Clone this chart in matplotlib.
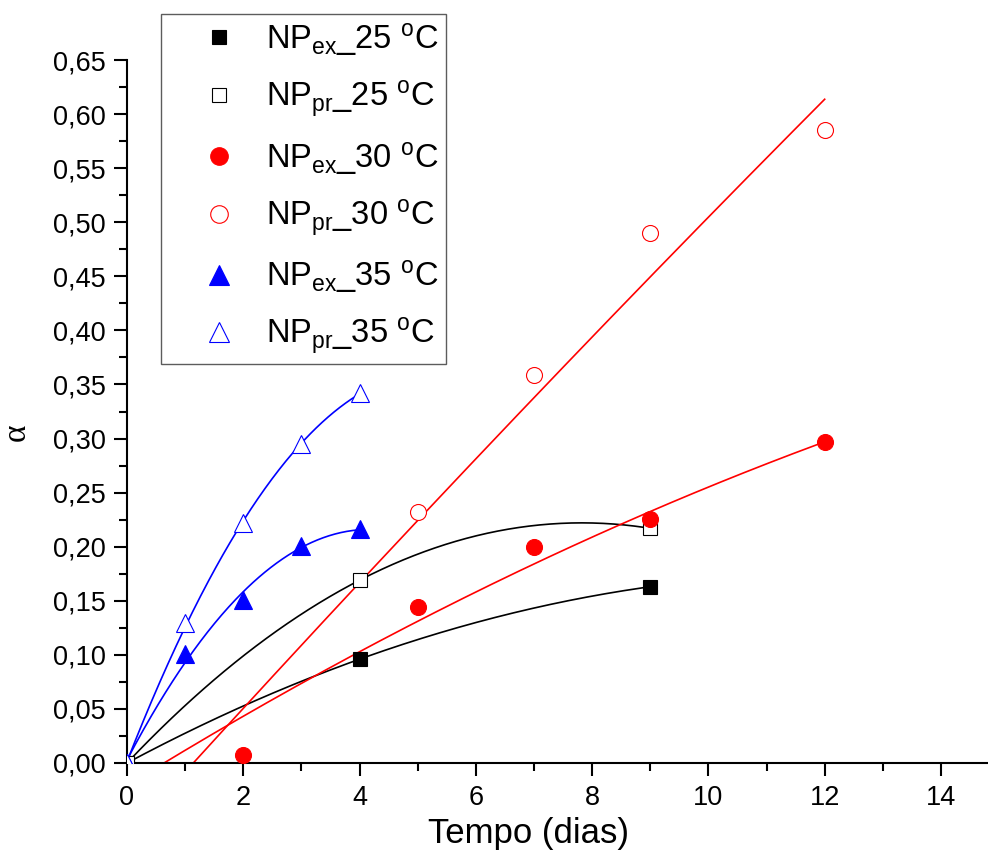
import numpy as np
import matplotlib
matplotlib.use("Agg")
import matplotlib.pyplot as plt
from matplotlib.ticker import MultipleLocator, FuncFormatter

plt.rcParams['font.family'] = ['Liberation Sans', 'DejaVu Sans']
plt.rcParams['mathtext.fontset'] = 'custom'
plt.rcParams['mathtext.rm'] = 'Liberation Sans'
plt.rcParams['mathtext.it'] = 'Liberation Sans:italic'

# ---- data ----
x_ex25 = [0, 4, 9]
y_ex25 = [0.0, 0.096, 0.163]
x_pr25 = [0, 4, 9]
y_pr25 = [0.0, 0.169, 0.217]
x_ex30 = [2, 5, 7, 9, 12]
y_ex30 = [0.007, 0.144, 0.200, 0.226, 0.297]
x_pr30 = [5, 7, 9, 12]
y_pr30 = [0.232, 0.359, 0.490, 0.585]
x_ex35 = [0, 1, 2, 3, 4]
y_ex35 = [0.0, 0.101, 0.151, 0.201, 0.216]
x_pr35 = [0, 1, 2, 3, 4]
y_pr35 = [0.0, 0.129, 0.222, 0.295, 0.342]

# fitted curves of the 30 °C series (polynomial coefficients, high->low)
fit_ex30 = [-0.000557, 0.03317, -0.02087]
fit_pr30 = [-0.0002257, 0.059476, -0.06751]

labels = [r'NP$_{\mathrm{ex}}$_25 $^{\mathrm{o}}$C',
          r'NP$_{\mathrm{pr}}$_25 $^{\mathrm{o}}$C',
          r'NP$_{\mathrm{ex}}$_30 $^{\mathrm{o}}$C',
          r'NP$_{\mathrm{pr}}$_30 $^{\mathrm{o}}$C',
          r'NP$_{\mathrm{ex}}$_35 $^{\mathrm{o}}$C',
          r'NP$_{\mathrm{pr}}$_35 $^{\mathrm{o}}$C']

W, H = 988, 851
fig = plt.figure(figsize=(W / 100, H / 100), dpi=100)
ax = fig.add_axes([127 / W, 1 - 763 / H, 1 - 127 / W, (763 - 60) / H])

lw = 1.2
# fitted curves
for xs, ys, col, deg in [(x_ex25, y_ex25, 'black', 2), (x_pr25, y_pr25, 'black', 2),
                         (x_ex35, y_ex35, 'blue', 2), (x_pr35, y_pr35, 'blue', 2)]:
    c = np.polyfit(xs, ys, deg)
    xx = np.linspace(0, max(xs), 200)
    ax.plot(xx, np.polyval(c, xx), color=col, lw=lw, zorder=2)
for coef, xs in [(fit_ex30, x_ex30), (fit_pr30, x_pr30)]:
    xx = np.linspace(0, max(xs), 200)
    ax.plot(xx, np.polyval(coef, xx), color='red', lw=lw, zorder=2)

h = []
h.append(ax.plot(x_ex25, y_ex25, 's', ms=9.5, mfc='black', mec='black', mew=0.8, ls='none', zorder=3)[0])
h.append(ax.plot(x_pr25, y_pr25, 's', ms=9.5, mfc='white', mec='black', mew=0.8, ls='none', zorder=3)[0])
h.append(ax.plot(x_ex30, y_ex30, 'o', ms=11.5, mfc='red', mec='red', mew=0.8, ls='none', zorder=3)[0])
h.append(ax.plot(x_pr30, y_pr30, 'o', ms=11.5, mfc='white', mec='red', mew=0.8, ls='none', zorder=3)[0])
h.append(ax.plot(x_ex35, y_ex35, '^', ms=12.5, mfc='blue', mec='blue', mew=0.8, ls='none', zorder=3)[0])
h.append(ax.plot(x_pr35, y_pr35, '^', ms=12.5, mfc='white', mec='blue', mew=0.8, ls='none', zorder=3)[0])

ax.set_xlim(0, (988 - 127) / 58.14)
ax.set_ylim(0, 0.65)
ax.xaxis.set_major_locator(MultipleLocator(2))
ax.xaxis.set_minor_locator(MultipleLocator(1))
ax.yaxis.set_major_locator(MultipleLocator(0.05))
ax.yaxis.set_minor_locator(MultipleLocator(0.025))
ax.yaxis.set_major_formatter(FuncFormatter(lambda v, p: f'{v:.2f}'.replace('.', ',')))
ax.xaxis.set_major_formatter(FuncFormatter(lambda v, p: f'{v:.0f}'))

for s in ['top', 'right']:
    ax.spines[s].set_visible(False)
for s in ['left', 'bottom']:
    ax.spines[s].set_linewidth(1.5)
ax.tick_params(which='major', length=9.5, width=1.5, labelsize=19.5, pad=6, direction='out')
ax.tick_params(which='minor', length=5.5, width=1.5, direction='out')

ax.set_xlabel('Tempo (dias)', fontsize=25)
ax.xaxis.set_label_coords(0.466, -0.0996)
ax.set_ylabel('α', fontsize=24, family=['Liberation Serif', 'DejaVu Serif'])
ax.yaxis.set_label_coords(-0.128, 0.471)
ax.yaxis.label.set_va('center')
ax.xaxis.label.set_va('center')

leg = fig.legend(h, labels, loc='upper left',
                 bbox_to_anchor=(161 / W, 1 - 14 / H), bbox_transform=fig.transFigure,
                 fontsize=23.5, frameon=True, fancybox=False, borderaxespad=0,
                 handletextpad=0.5, labelspacing=0.63, borderpad=0.22,
                 handlelength=2.5, markerscale=1.1)
leg.get_frame().set_edgecolor('#333333')
leg.get_frame().set_linewidth(1.0)
for hl in leg.legend_handles:
    hl.set_xdata(np.asarray(hl.get_xdata(), dtype=float) + 7)

fig.savefig('out.png', dpi=100)
